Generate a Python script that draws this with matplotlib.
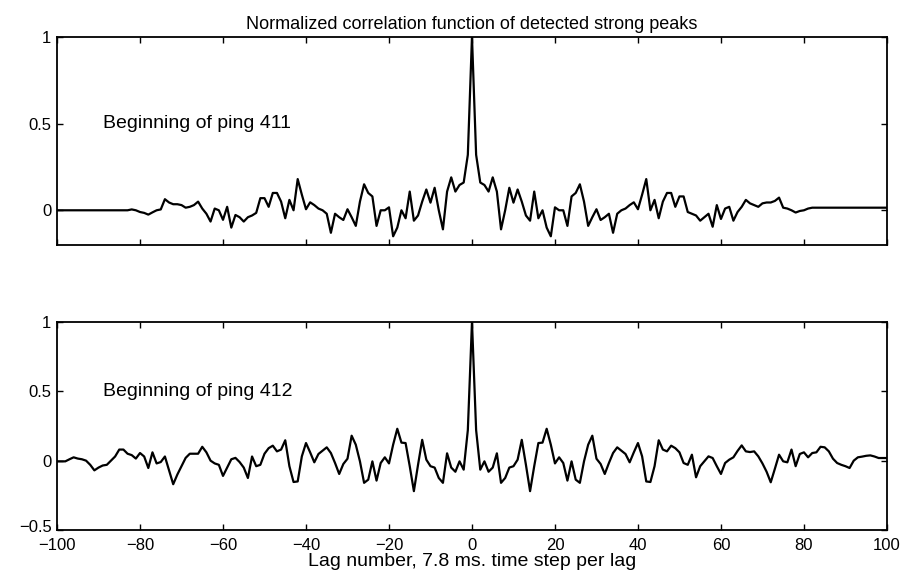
import matplotlib
matplotlib.use("Agg")
import matplotlib.pyplot as plt
import matplotlib.transforms as mtransforms
import numpy as np

plt.rcParams['font.family'] = ['Liberation Sans', 'DejaVu Sans']

lags = list(range(-100, 101))

# Ping 411 correlation (lags -100..-1, 0, 1..100)
top_left = [0.0]*18 + [
    0.005, 0.0, -0.01, -0.015, -0.025, -0.012, 0.0, 0.005, 0.064, 0.045,
    0.035, 0.035, 0.03, 0.015, 0.02, 0.03, 0.05, 0.01, -0.02, -0.065,
    0.01, 0.0, -0.055, 0.02, -0.1, -0.027, -0.04, -0.065, -0.04, -0.03,
    -0.015, 0.07, 0.07,
    0.02, 0.10, 0.10, 0.05, -0.046, 0.06, 0.0, 0.18, 0.09, 0.006,
    0.046, 0.03, 0.01, 0.0, -0.02, -0.13, -0.02, -0.04, -0.056, 0.006,
    -0.04, -0.09, 0.05, 0.15, 0.10, 0.08, -0.09, 0.0, 0.0, 0.017,
    -0.15, -0.10, 0.0, -0.046, 0.108, -0.06, -0.03, 0.05, 0.12, 0.044,
    0.13, 0.0, -0.11, 0.108, 0.19, 0.108, 0.146, 0.16, 0.32]
top_peak = [1.0]
top_right = [
    0.32, 0.16, 0.146, 0.108, 0.19, 0.108, -0.11, 0.0, 0.13, 0.044,
    0.12, 0.05, -0.03, -0.06, 0.108, -0.046, 0.0, -0.10, -0.15, 0.017,
    0.0, 0.0, -0.09, 0.08, 0.10, 0.15, 0.05, -0.09, -0.04, 0.006,
    -0.056, -0.04, -0.02, -0.13, -0.02, 0.0, 0.01, 0.03, 0.046, 0.006,
    0.09, 0.18, 0.0, 0.06, -0.046, 0.05, 0.10, 0.10, 0.02, 0.08,
    0.08, -0.01, -0.02, -0.03, -0.06, -0.04, -0.02, -0.095, 0.03, -0.05,
    0.01, 0.02, -0.06, -0.01, 0.02, 0.06, 0.04, 0.03, 0.02, 0.04,
    0.045, 0.045, 0.054, 0.073, 0.015, 0.01, 0.0, -0.013, -0.004, 0.0,
    0.01, 0.015] + [0.015]*18

# Ping 412 correlation
bot_left = [
    -0.005, -0.005, -0.005, 0.01, 0.024, 0.015, 0.01, 0.0, -0.03, -0.07,
    -0.05, -0.035, -0.03, 0.0, 0.03, 0.08, 0.08, 0.05, 0.04, 0.015,
    0.055, 0.03, -0.053, 0.06, -0.02, -0.01, 0.03, -0.07, -0.17, -0.1,
    -0.04, 0.02, 0.05, 0.05, 0.05, 0.1, 0.06, 0.0, -0.02, -0.03,
    -0.11, -0.05, 0.01, 0.02, -0.01, -0.05, -0.125, 0.03, -0.04, -0.03,
    0.05,
    0.09, 0.108, 0.067, 0.08, 0.147, -0.04, -0.154, -0.15, 0.031, 0.127,
    0.06, -0.012, 0.048, 0.072, 0.096, 0.055, -0.017, -0.096, -0.024, 0.014,
    0.18, 0.115, -0.005, -0.16, -0.137, -0.005, -0.144, -0.017, 0.024, -0.02,
    0.115, 0.23, 0.13, 0.127, -0.04, -0.22, -0.03, 0.15, 0.007, -0.04,
    -0.05, -0.125, -0.16, 0.053, -0.05, -0.08, -0.005, -0.065, 0.22]
bot_peak = [1.0]
bot_right = [
    0.22, -0.065, -0.005, -0.08, -0.05, 0.053, -0.16, -0.125, -0.05, -0.04,
    0.007, 0.15, -0.03, -0.22, -0.04, 0.127, 0.13, 0.23, 0.115, -0.02,
    0.024, -0.017, -0.144, -0.005, -0.137, -0.16, -0.005, 0.115, 0.18, 0.014,
    -0.024, -0.096, -0.017, 0.055, 0.096, 0.072, 0.048, -0.012, 0.06, 0.127,
    0.031, -0.15, -0.154, -0.04, 0.147, 0.08, 0.067, 0.108, 0.09, 0.06,
    -0.017, -0.03, 0.043, -0.12, -0.04, -0.005, 0.031, 0.019, -0.04, -0.096,
    -0.017, 0.007, 0.024, 0.07, 0.11, 0.067, 0.062, 0.067, 0.031, -0.02,
    -0.08, -0.156, -0.058, 0.043, -0.005, -0.012, 0.08, -0.04, 0.048, 0.06,
    0.024, 0.055, 0.06, 0.1, 0.096, 0.067, 0.014, -0.017, -0.03, -0.04,
    -0.053, 0.0, 0.024, 0.029, 0.035, 0.038, 0.03, 0.019, 0.019, 0.019]

top_vals = top_left + top_peak + top_right
bot_vals = bot_left + bot_peak + bot_right

xticks = [-100, -80, -60, -40, -20, 0, 20, 40, 60, 80, 100]
top_yticks = [0, 0.5, 1]
bot_yticks = [-0.5, 0, 0.5, 1]

title = "Normalized correlation function of detected strong peaks"
xlabel = "Lag number, 7.8 ms. time step per lag"
label_top = "Beginning of ping 411"
label_bot = "Beginning of ping 412"

fig = plt.figure(figsize=(9.08, 5.75), dpi=100)
ax1 = fig.add_axes([0.0628, 0.574, 0.914, 0.3617])
ax2 = fig.add_axes([0.0628, 0.0783, 0.914, 0.3617])

def style(ax, yticks, ylim):
    ax.set_xlim(-100, 100)
    ax.set_ylim(*ylim)
    ax.set_xticks(xticks)
    ax.set_yticks(yticks)
    ax.set_yticklabels([('%g' % v).replace('-', '\u2212') for v in yticks])
    ax.tick_params(direction='in', top=True, right=True, length=4, width=1,
                   labelsize=12, pad=4, colors='black')
    for s in ax.spines.values():
        s.set_linewidth(1.3)
        s.set_color('black')

ax1.plot(lags, top_vals, color='black', lw=1.6)
style(ax1, top_yticks, (-0.2, 1))
ax1.set_xticklabels([])
ax1.text(-89, 0.5, label_top, fontsize=14, va='center', ha='left')
ax1.set_title(title, fontsize=13, pad=6)

ax2.plot(lags, bot_vals, color='black', lw=1.6)
style(ax2, bot_yticks, (-0.5, 1))
ax2.set_xticklabels([('%d' % v).replace('-', '\u2212') for v in xticks])
ax2.tick_params(axis='x', pad=6)
ax2.text(-89, 0.5, label_bot, fontsize=14, va='center', ha='left')
ax2.set_xlabel(xlabel, fontsize=14, labelpad=0)

# nudge the lowest y label up slightly so it sits just above "-100"
lowest = ax2.get_yticklabels()[0]
lowest.set_transform(lowest.get_transform() +
                     mtransforms.ScaledTranslation(0, 4 / 100, fig.dpi_scale_trans))

fig.savefig("out.png", dpi=100)
